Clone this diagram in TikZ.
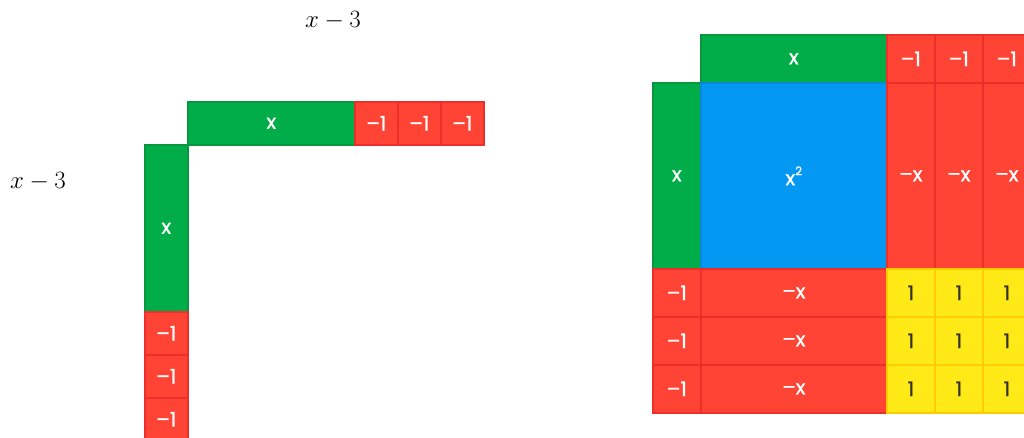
\documentclass[tikz,border=0pt]{standalone}
\usepackage{fontspec}
\newfontfamily\tilefont[FakeBold=1.2]{Poppins}
\definecolor{tgreen}{HTML}{00AD48}
\definecolor{tgreenb}{HTML}{0A963E}
\definecolor{tred}{HTML}{FF4436}
\definecolor{tredb}{HTML}{EC2F2A}
\definecolor{tblue}{HTML}{0399F3}
\definecolor{tblueb}{HTML}{0A86DA}
\definecolor{tyellow}{HTML}{FFE916}
\definecolor{tyellowb}{HTML}{FFCC00}
\definecolor{tdark}{HTML}{333333}
\begin{document}
\begin{tikzpicture}[x=1pt,y=-1pt,
  tile/.style={rectangle, inner sep=0pt, anchor=north west, line width=1.6pt,
    font=\tilefont\fontsize{20}{24}\selectfont, text=white},
  gtile/.style={tile, fill=tgreen, draw=tgreenb},
  rtile/.style={tile, fill=tred, draw=tredb},
  btile/.style={tile, fill=tblue, draw=tblueb},
  ytile/.style={tile, fill=tyellow, draw=tyellowb, text=tdark},
  lsmall/.style={minimum width=43pt, minimum height=43pt},
  lhor/.style={minimum width=167pt, minimum height=43pt},
  lver/.style={minimum width=43pt, minimum height=167pt},
  rsmall/.style={minimum width=48pt, minimum height=48pt},
  rhor/.style={minimum width=186pt, minimum height=48pt},
  rver/.style={minimum width=48pt, minimum height=186pt},
  rbig/.style={minimum width=186pt, minimum height=186pt},
  mlabel/.style={font=\fontsize{26}{30}\selectfont, inner sep=0pt}
]
\clip (0,0) rectangle (1024,437);
\fill[white] (0,0) rectangle (1024,437);

% labels
\node[mlabel] (ltop) at (333,21) {$x-3$};
\node[mlabel] (lleft) at (38,182) {$x-3$};

% left figure: top bar
\node[gtile, lhor] (a0) at (187,101) {x};
\node[rtile, lsmall] (a1) at (354,101) {–1};
\node[rtile, lsmall] (a2) at (397,101) {–1};
\node[rtile, lsmall] (a3) at (440,101) {–1};
% left figure: side bar
\node[gtile, lver] (b0) at (144,144) {x};
\node[rtile, lsmall] (b1) at (144,311) {–1};
\node[rtile, lsmall] (b2) at (144,354) {–1};
\node[rtile, lsmall] (b3) at (144,397) {–1};

% right figure: top bar
\node[gtile, rhor] (c0) at (700,34) {x};
\node[rtile, rsmall] (c1) at (886,34) {–1};
\node[rtile, rsmall] (c2) at (934,34) {–1};
\node[rtile, rsmall] (c3) at (982,34) {–1};
% right figure: side bar
\node[gtile, rver] (d0) at (652,82) {x};
\node[rtile, rsmall] (d1) at (652,268) {–1};
\node[rtile, rsmall] (d2) at (652,316) {–1};
\node[rtile, rsmall] (d3) at (652,364) {–1};
% right figure: product
\node[btile, rbig] (sq) at (700,82) {x\raisebox{0.5em}{\fontsize{12}{12}\selectfont 2}};
\node[rtile, rver] (v1) at (886,82) {–x};
\node[rtile, rver] (v2) at (934,82) {–x};
\node[rtile, rver] (v3) at (982,82) {–x};
\node[rtile, rhor] (h1) at (700,268) {–x};
\node[rtile, rhor] (h2) at (700,316) {–x};
\node[rtile, rhor] (h3) at (700,364) {–x};
\foreach \i/\yy in {1/268,2/316,3/364}{
  \foreach \j/\xx in {1/886,2/934,3/982}{
    \node[ytile, rsmall] (y\i\j) at (\xx,\yy) {1};
  }
}
\end{tikzpicture}
\end{document}
